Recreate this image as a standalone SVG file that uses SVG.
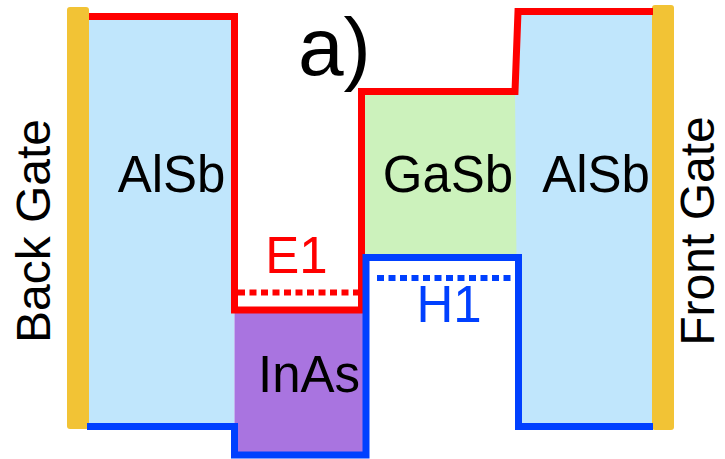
<svg xmlns="http://www.w3.org/2000/svg" width="725" height="459" viewBox="0 0 725 459">
  <style>
    .lbl { font-family: "Liberation Sans", Arial, sans-serif; font-size: 51px; fill: #000; }
    .mid { text-anchor: middle; }
    .side { font-size: 48px; }
    .red { fill: #FF0000; }
    .blue { fill: #0040FF; }
    .gate { fill: #F2C335; }
    .cb { fill: none; stroke: #FF0000; stroke-width: 7; stroke-linejoin: miter; }
    .vb { fill: none; stroke: #0040FF; stroke-width: 7; stroke-linejoin: miter; }
    .lvl { fill: none; stroke-width: 6; stroke-dasharray: 7 4.5; }
  </style>

  <!-- material layers -->
  <g id="alsb-back">
    <rect x="89" y="16.5" width="145.5" height="410" fill="#C0E6FC"/>
    <text class="lbl mid" x="171.5" y="192">AlSb</text>
  </g>
  <g id="inas">
    <rect x="234.5" y="310" width="131.5" height="145" fill="#A974E0"/>
    <text class="lbl mid" x="309" y="392">InAs</text>
  </g>
  <g id="gasb">
    <rect x="361.5" y="91.5" width="156.5" height="166" fill="#CCF2BC"/>
    <text class="lbl mid" x="448" y="192">GaSb</text>
  </g>
  <g id="alsb-front">
    <polygon points="515,91.5 518,11.5 653,11.5 653,426.5 518,426.5" fill="#C0E6FC"/>
    <text class="lbl mid" x="596" y="192">AlSb</text>
  </g>

  <!-- gate electrodes -->
  <g id="back-gate">
    <rect class="gate" x="67" y="7" width="22" height="422" rx="3"/>
    <text class="lbl mid side" x="0" y="0" transform="translate(49.5,231) rotate(-90)">Back Gate</text>
  </g>
  <g id="front-gate">
    <rect class="gate" x="652" y="5" width="22" height="425" rx="3"/>
    <text class="lbl mid side" x="0" y="0" transform="translate(714,231) rotate(-90)">Front Gate</text>
  </g>

  <!-- band edges and confined levels -->
  <g id="connectors">
    <path class="cb" d="M89 16.5 H234.5 V310 H361.5 V91.5 H515 L518 11.5 H653"/>
    <path class="vb" d="M87 426.5 H234.5 V455 H366 V257.5 H518.5 V426.5 H653"/>
    <line class="lvl" x1="238" y1="292.5" x2="358" y2="292.5" stroke="#FF0000"/>
    <line class="lvl" x1="377" y1="278" x2="514" y2="278" stroke="#0040FF"/>
  </g>

  <g id="level-labels">
    <text class="lbl mid red" x="296.5" y="273">E1</text>
    <text class="lbl mid blue" x="449" y="322">H1</text>
  </g>

  <g id="panel-label">
    <text class="lbl" x="298" y="75" style="font-size:82px">a)</text>
  </g>
</svg>
